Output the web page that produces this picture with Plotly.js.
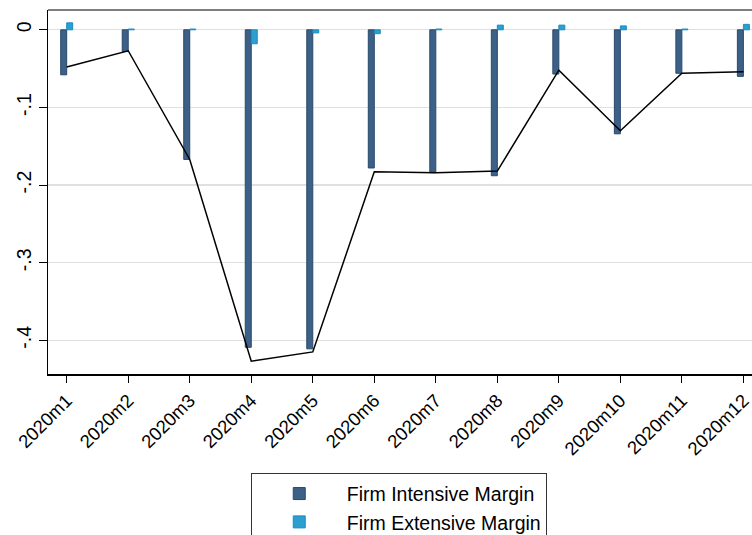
<!DOCTYPE html>
<html>
<head>
<meta charset="utf-8">
<script src="https://cdn.plot.ly/plotly-3.0.1.min.js"></script>
<style>
  body { margin: 0; background: #fff; }
  #chart { width: 752px; height: 535px; }
</style>
</head>
<body>
<div id="chart"></div>
<script>
// months
var months = ['2020m1', '2020m2', '2020m3', '2020m4', '2020m5', '2020m6',
              '2020m7', '2020m8', '2020m9', '2020m10', '2020m11', '2020m12'];

// series
var intensiveMargin = [-0.058, -0.028, -0.167, -0.409, -0.411, -0.178,
                       -0.184, -0.188, -0.057, -0.134, -0.056, -0.060];
var extensiveMargin = [0.009, 0.001, 0.001, -0.018, -0.004, -0.005,
                       0.001, 0.006, 0.006, 0.005, 0.001, 0.007];
var totalChange = [-0.048, -0.027, -0.167, -0.427, -0.415, -0.183,
                   -0.184, -0.182, -0.052, -0.130, -0.056, -0.054];

var yTicks = [0, -0.1, -0.2, -0.3, -0.4];
var yTickText = ['0', '-.1', '-.2', '-.3', '-.4'];

var idx = months.map(function (m, i) { return i; });

var intensive = {
    x: idx,
    y: intensiveMargin,
    type: 'bar',
    name: 'Firm Intensive Margin',
    marker: { color: '#3d6186', line: { color: '#274a6c', width: 1 } }
};

var extensive = {
    x: idx,
    y: extensiveMargin,
    type: 'bar',
    name: 'Firm Extensive Margin',
    marker: { color: '#2b9fd0', line: { color: '#1a8dc2', width: 1 } }
};

var total = {
    x: idx,
    y: totalChange,
    type: 'scatter',
    mode: 'lines',
    line: { color: '#000000', width: 1.5 },
    showlegend: false,
    hoverinfo: 'skip'
};

var layout = {
    width: 752,
    height: 535,
    margin: { l: 48, r: 0, t: 10, b: 161, autoexpand: false },
    paper_bgcolor: '#ffffff',
    plot_bgcolor: '#ffffff',
    barmode: 'group',
    bargap: 0.805,
    bargroupgap: 0,
    font: { family: 'Liberation Sans, Arial, sans-serif', color: '#000', size: 18 },
    xaxis: {
        range: [-0.304, 11.14],
        automargin: false,
        tickmode: 'array',
        tickvals: idx,
        ticktext: months,
        tickangle: -45,
        ticklabeloverflow: 'allow',
        ticks: 'outside',
        ticklen: 7,
        tickcolor: '#000',
        showline: true,
        linecolor: '#000',
        linewidth: 1.5,
        showgrid: false,
        zeroline: false,
        tickfont: { size: 18.5 }
    },
    yaxis: {
        range: [-0.4434, 0.0255],
        automargin: false,
        tickmode: 'array',
        tickvals: yTicks,
        ticktext: yTickText,
        tickangle: -90,
        ticks: 'outside',
        ticklen: 8,
        tickcolor: '#000',
        showline: true,
        linecolor: '#000',
        linewidth: 1.5,
        showgrid: true,
        gridcolor: '#e0e0e0',
        gridwidth: 1.2,
        zeroline: false,
        tickfont: { size: 19.5 }
    },
    shapes: [{
        type: 'line', xref: 'paper', yref: 'paper',
        x0: 0, x1: 1, y0: 1, y1: 1,
        line: { color: '#555', width: 1.5 }
    }],
    legend: {
        x: 0.288,
        y: -0.273,
        xanchor: 'left',
        yanchor: 'top',
        orientation: 'v',
        bordercolor: '#333',
        borderwidth: 1,
        bgcolor: '#fff',
        font: { size: 19.5 },
        itemwidth: 85,
        tracegroupgap: 0,
        traceorder: 'normal'
    }
};

Plotly.newPlot('chart', [intensive, extensive, total], layout, { displayModeBar: false, staticPlot: true });
</script>
</body>
</html>
